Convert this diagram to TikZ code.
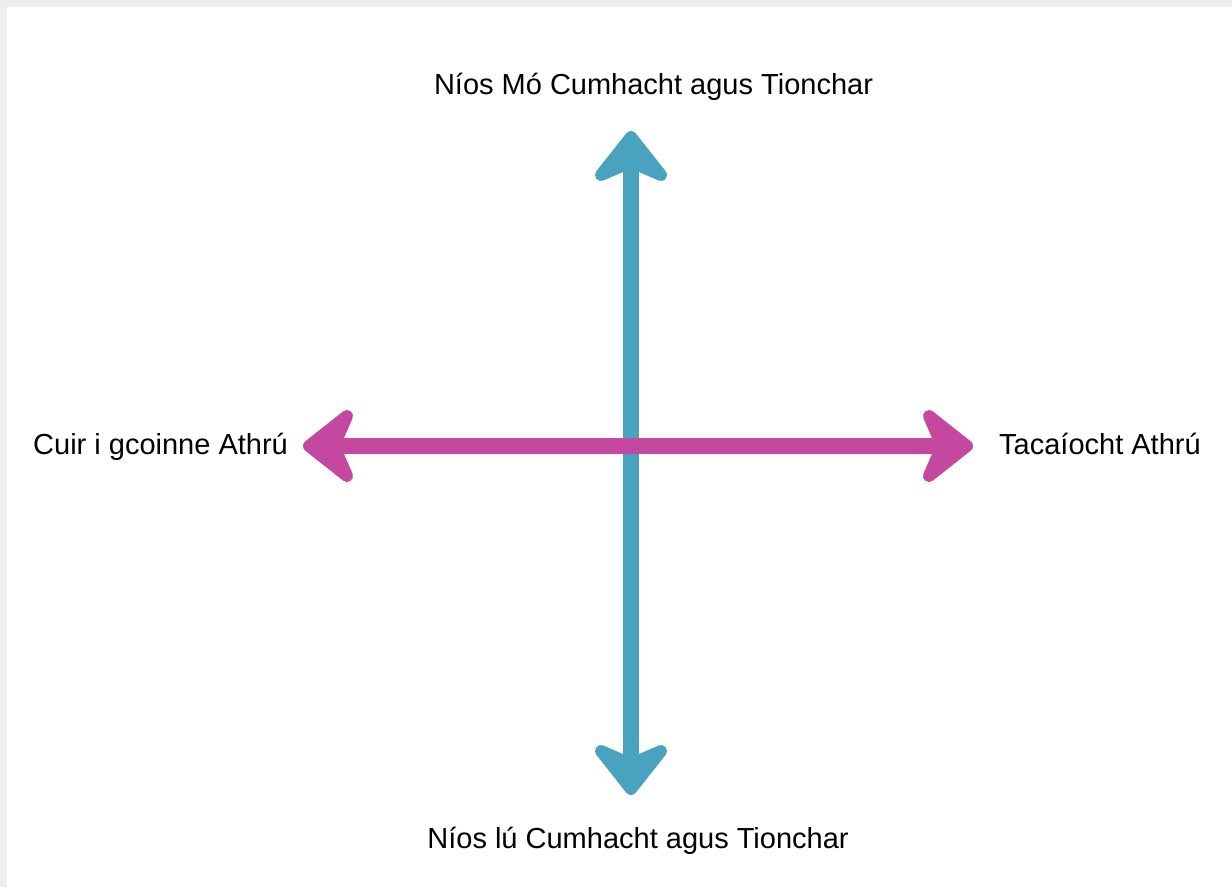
\documentclass[tikz,border=0pt]{standalone}
\usepackage{fontspec}
\setmainfont{Liberation Sans}
\definecolor{axisblue}{RGB}{72,162,192}
\definecolor{axispink}{RGB}{197,72,160}
\definecolor{edgegray}{RGB}{238,238,238}
\begin{document}
\begin{tikzpicture}[x=1pt,y=-1pt,
  lbl/.style={inner sep=0pt,font=\fontsize{29}{34}\selectfont,text=black},
  axisline/.style={line width=16pt,line cap=butt},
  headshape/.style={line width=12pt,line join=round}]
\useasboundingbox (0,0) rectangle (1232,887);
\fill[edgegray] (0,0) rectangle (1232,887);
\fill[white] (7,7) rectangle (1232,887);
% shaft end coordinates (inside the heads)
\coordinate (vt) at (631,165);
\coordinate (vb) at (631,761);
\coordinate (hl) at (337,446);
\coordinate (hr) at (939,446);
% vertical (blue) arrow
\draw[axisline,axisblue] (vt) -- (vb);
\filldraw[headshape,axisblue] (631,137) -- (661,175) -- (631,162) -- (601,175) -- cycle;
\filldraw[headshape,axisblue] (631,789) -- (661,751) -- (631,764) -- (601,751) -- cycle;
% horizontal (pink) arrow
\draw[axisline,axispink] (hl) -- (hr);
\filldraw[headshape,axispink] (309,446) -- (347,416) -- (334,446) -- (347,476) -- cycle;
\filldraw[headshape,axispink] (967,446) -- (929,416) -- (942,446) -- (929,476) -- cycle;
% labels
\node[lbl,anchor=base] (top) at (653.5,94) {Níos Mó Cumhacht agus Tionchar};
\node[lbl,anchor=base] (bottom) at (638,848) {Níos lú Cumhacht agus Tionchar};
\node[lbl,anchor=base west] (left) at (33,454) {Cuir i gcoinne Athrú};
\node[lbl,anchor=base west] (right) at (999,454) {Tacaíocht Athrú};
\end{tikzpicture}
\end{document}
